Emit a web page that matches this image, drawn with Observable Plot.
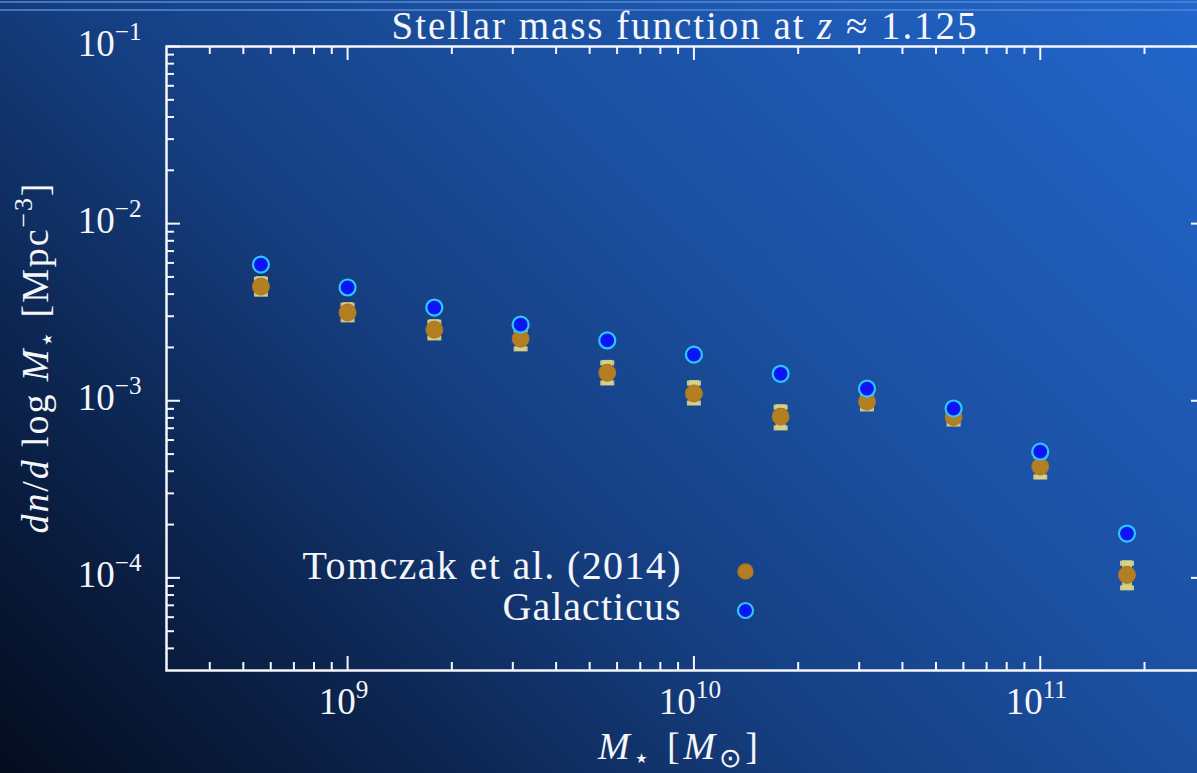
<!DOCTYPE html>
<html>
<head>
<meta charset="utf-8">
<script src="https://cdn.jsdelivr.net/npm/d3@7"></script>
<script src="https://cdn.jsdelivr.net/npm/@observablehq/plot@0.6"></script>
<style>
html, body { margin: 0; padding: 0; width: 1197px; height: 773px; overflow: hidden; }
body {
  position: relative;
  background: linear-gradient(45deg, #040c1e 0%, #0c244e 22%, #153e80 42%, #1b4f9f 62%, #2266cc 100%);
  font-family: "Liberation Serif", serif;
}
.hline { position: absolute; left: 0; width: 100%; height: 2px; background: #4f86d2; opacity: 0.8; }
#chart { position: absolute; left: 0; top: 0; }
</style>
</head>
<body>
<div class="hline" style="top:1px"></div>
<div class="hline" style="top:9px"></div>
<div id="chart"></div>
<script>
// ---- data ----
const masses = [5.62e8, 1e9, 1.78e9, 3.16e9, 5.62e9, 1e10, 1.78e10, 3.16e10, 5.62e10, 1e11, 1.78e11];
const tomczak   = [4.41e-3, 3.15e-3, 2.52e-3, 2.24e-3, 1.44e-3, 1.10e-3, 8.14e-4, 9.89e-4, 8.10e-4, 4.25e-4, 1.04e-4];
const tomczakHi = [5.02e-3, 3.58e-3, 2.87e-3, 2.59e-3, 1.69e-3, 1.30e-3, 9.50e-4, 1.13e-3, 9.40e-4, 5.04e-4, 1.25e-4];
const tomczakLo = [3.87e-3, 2.77e-3, 2.19e-3, 1.90e-3, 1.22e-3, 9.40e-4, 6.80e-4, 8.70e-4, 7.15e-4, 3.59e-4, 8.50e-5];
const galacticus = [5.87e-3, 4.36e-3, 3.36e-3, 2.69e-3, 2.19e-3, 1.82e-3, 1.42e-3, 1.17e-3, 9.04e-4, 5.16e-4, 1.78e-4];

const xDomain = [3e8, 3e11];
const yDomain = [3e-5, 1e-1];
const xMajor = [1e9, 1e10, 1e11];
const xMinor = [4e8, 5e8, 6e8, 7e8, 8e8, 9e8, 2e9, 3e9, 4e9, 5e9, 6e9, 7e9, 8e9, 9e9,
                2e10, 3e10, 4e10, 5e10, 6e10, 7e10, 8e10, 9e10, 2e11];
const yMajor = [1e-4, 1e-3, 1e-2, 1e-1];
const yMinor = [4e-5, 5e-5, 6e-5, 7e-5, 8e-5, 9e-5, 2e-4, 3e-4, 4e-4, 5e-4, 6e-4, 7e-4, 8e-4, 9e-4,
                2e-3, 3e-3, 4e-3, 5e-3, 6e-3, 7e-3, 8e-3, 9e-3, 2e-2, 3e-2, 4e-2, 5e-2, 6e-2, 7e-2, 8e-2, 9e-2];
const xTickLabels = ["10^9", "10^10", "10^11"];
const yTickLabels = ["10^−4", "10^−3", "10^−2", "10^−1"];
const seriesNames = ["Tomczak et al. (2014)", "Galacticus"];
const titleText = "Stellar mass function at z ≈ 1.125";
const xLabelText = "M⋆ [M⊙]";
const yLabelText = "dn/d log M⋆ [Mpc−3]";
const titleSegs = [["Stellar mass function at ", "r"], ["z", "i"], [" ≈ 1.125", "r"]];
const xLabelSegs = [["M", "i"], ["⋆", "sub"], [" [", "r"], ["M", "i"], ["⊙", "sub"], ["]", "r"]];
const yLabelSegs = [["dn", "i"], ["/", "r"], ["d", "i"], [" log ", "r"], ["M", "i"], ["⋆", "sub"], [" [Mpc", "r"], ["−3", "sup"], ["]", "r"]];

// ---- layout ----
const W = 1206, H = 773, ML = 166, MT = 46, MR = 1, MB = 103;
const FW = W - ML - MR, FH = H - MT - MB;
const FONT = "Liberation Serif";
const white = "#f4f6fa";
const TICKFS = 37;

const tomRows = masses.map((m, i) => ({m, v: tomczak[i], lo: tomczakLo[i], hi: tomczakHi[i]}));
const galRows = masses.map((m, i) => ({m, v: galacticus[i]}));

const errColor = "#d6d18a";
const capTop = {draw(ctx) { ctx.rect(-7, 0, 14, 5); }};
const capBot = {draw(ctx) { ctx.rect(-7, -5, 14, 5); }};

const plot = Plot.plot({
  width: W, height: H,
  marginLeft: ML, marginTop: MT, marginRight: MR, marginBottom: MB,
  x: {type: "log", domain: xDomain, axis: null},
  y: {type: "log", domain: yDomain, axis: null},
  style: {background: "transparent", maxWidth: "none", color: white, fontFamily: FONT, overflow: "visible"},
  marks: [
    // error bars
    Plot.ruleX(tomRows, {x: "m", y1: "lo", y2: "hi", stroke: errColor, strokeWidth: 10, strokeOpacity: 0.92}),
    Plot.dot(tomRows, {x: "m", y: "hi", symbol: capTop, r: 4, fill: errColor, fillOpacity: 0.92}),
    Plot.dot(tomRows, {x: "m", y: "lo", symbol: capBot, r: 4, fill: errColor, fillOpacity: 0.92}),
    Plot.dot(tomRows, {x: "m", y: "v", r: 8.5, fill: "#b47e22", stroke: "#a87524", strokeWidth: 1}),
    Plot.dot(galRows, {x: "m", y: "v", r: 8, fill: "#0b14f2", stroke: "#2cc6ff", strokeWidth: 2.2}),
    // frame + inner ticks
    Plot.frame({stroke: white, strokeWidth: 2.5}),
    Plot.tickY(yMajor, {y: d => d, stroke: white, strokeWidth: 2, insetRight: FW - 14}),
    Plot.tickY(yMinor, {y: d => d, stroke: white, strokeWidth: 2, insetRight: FW - 8}),
    Plot.tickY(yMajor, {y: d => d, stroke: white, strokeWidth: 2, insetLeft: FW - 14}),
    Plot.tickY(yMinor, {y: d => d, stroke: white, strokeWidth: 2, insetLeft: FW - 8}),
    Plot.tickX(xMajor, {x: d => d, stroke: white, strokeWidth: 2, insetTop: FH - 14}),
    Plot.tickX(xMinor, {x: d => d, stroke: white, strokeWidth: 2, insetTop: FH - 8}),
    Plot.tickX(xMajor, {x: d => d, stroke: white, strokeWidth: 2, insetBottom: FH - 14}),
    Plot.tickX(xMinor, {x: d => d, stroke: white, strokeWidth: 2, insetBottom: FH - 8}),
    // tick labels
    Plot.text(xMajor, {x: d => d, text: (d, i) => xTickLabels[i], frameAnchor: "bottom", textAnchor: "middle",
      lineAnchor: "bottom", dx: -4, dy: 43, fontSize: TICKFS, fill: white}),
    Plot.text(yMajor, {y: d => d, text: (d, i) => yTickLabels[i], frameAnchor: "left", textAnchor: "end",
      lineAnchor: "bottom", dx: -25, dy: 9, fontSize: TICKFS, fill: white}),
    // title & axis labels
    Plot.text([titleText], {text: d => d, frameAnchor: "top", textAnchor: "middle", lineAnchor: "bottom",
      dx: -2, dy: -8, fontSize: 39, fill: white}),
    Plot.text([xLabelText], {text: d => d, frameAnchor: "bottom", textAnchor: "middle", lineAnchor: "bottom",
      dx: -8, dy: 88, fontSize: 38, fill: white}),
    Plot.text([yLabelText], {text: d => d, frameAnchor: "left", textAnchor: "middle", lineAnchor: "bottom",
      rotate: -90, dx: -119, dy: 0, fontSize: 38, fill: white}),
    // legend
    Plot.text([seriesNames[0]], {text: d => d, frameAnchor: "top-left", textAnchor: "end", lineAnchor: "bottom",
      dx: 514, dy: 532, fontSize: 40, fill: white}),
    Plot.text([seriesNames[1]], {text: d => d, frameAnchor: "top-left", textAnchor: "end", lineAnchor: "bottom",
      dx: 514, dy: 573, fontSize: 40, fill: white}),
    Plot.dot([seriesNames[0]], {frameAnchor: "top-left", dx: 579, dy: 525, r: 7.5, fill: "#b47e22", stroke: "#a87524"}),
    Plot.dot([seriesNames[1]], {frameAnchor: "top-left", dx: 579, dy: 564, r: 7.5, fill: "#0b14f2", stroke: "#2cc6ff", strokeWidth: 2.2})
  ]
});

document.getElementById("chart").appendChild(plot);

// ---- rich text (italics / sub / superscripts) ----
function rich(textEl, segs, size) {
  const t = d3.select(textEl);
  t.text(null);
  let shift = 0;
  for (const [s, k] of segs) {
    const sp = t.append("tspan").text(s);
    let target = 0;
    if (k === "i") sp.attr("font-style", "italic");
    if (k === "sub") { sp.attr("font-size", size * 0.7); target = size * 0.22; }
    if (k === "sup") { sp.attr("font-size", size * 0.68); target = -size * 0.42; }
    if (target !== shift) { sp.attr("dy", target - shift); shift = target; }
  }
}
function caretSegs(s) {
  const [a, b] = s.split("^");
  return [[a, "r"], [b, "sup"]];
}
d3.select(plot).selectAll("text").each(function() {
  const s = this.textContent;
  const sel = d3.select(this);
  if (s.includes("^")) rich(this, caretSegs(s), TICKFS);
  else if (s === titleText) { rich(this, titleSegs, 39); sel.attr("textLength", 585).attr("lengthAdjust", "spacing"); }
  else if (s === xLabelText) { rich(this, xLabelSegs, 38); sel.attr("textLength", 160).attr("lengthAdjust", "spacing"); }
  else if (s === yLabelText) { rich(this, yLabelSegs, 38); sel.attr("textLength", 350).attr("lengthAdjust", "spacing"); }
  else if (s === seriesNames[0]) sel.attr("textLength", 378).attr("lengthAdjust", "spacing");
  else if (s === seriesNames[1]) sel.attr("textLength", 178).attr("lengthAdjust", "spacing");
});
</script>
</body>
</html>
